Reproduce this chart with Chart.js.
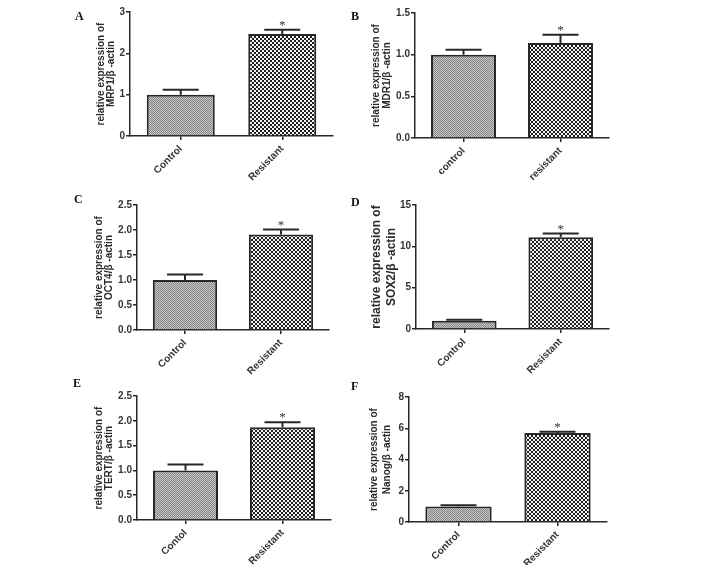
<!DOCTYPE html>
<html>
<head>
<meta charset="utf-8">
<script src="https://cdn.jsdelivr.net/npm/chart.js@4.4.1/dist/chart.umd.min.js"></script>
<style>
  body { margin: 0; background: #fff; }
  #page { position: relative; width: 708px; height: 565px; overflow: hidden; background: #fff; }
  #page canvas { position: absolute; }
  .tag { position: absolute; font: bold 12px "Liberation Serif", "Times New Roman", serif; color: #111; line-height: 12px; }
</style>
</head>
<body>
<div id="page"></div>
<script>
// ---- data ----
const catsA = ['Control', 'Resistant'];
const valsA = [1.0, 2.47];
const errA = [0.12, 0.10];
const ticksA = ['0', '1', '2', '3'];

const catsB = ['control', 'resistant'];
const valsB = [1.0, 1.14];
const errB = [0.06, 0.10];
const ticksB = ['0.0', '0.5', '1.0', '1.5'];

const catsC = ['Control', 'Resistant'];
const valsC = [1.0, 1.91];
const errC = [0.11, 0.10];
const ticksC = ['0.0', '0.5', '1.0', '1.5', '2.0', '2.5'];

const catsD = ['Control', 'Resistant'];
const valsD = [1.0, 11.1];
const errD = [0.12, 0.45];
const ticksD = ['0', '5', '10', '15'];

const catsE = ['Contol', 'Resistant'];
const valsE = [1.0, 1.87];
const errE = [0.12, 0.10];
const ticksE = ['0.0', '0.5', '1.0', '1.5', '2.0', '2.5'];

const catsF = ['Control', 'Resistant'];
const valsF = [1.0, 5.7];
const errF = [0.07, 0.07];
const ticksF = ['0', '2', '4', '6', '8'];

const marks = ['', '*'];
const yTitles = [
  ['relative expression of', 'MRP1/\u03B2 -actin'],
  ['relative expression of', 'MDR1/\u03B2 -actin'],
  ['relative expression of', 'OCT4/\u03B2 -actin'],
  ['relative expression of', 'SOX2/\u03B2 -actin'],
  ['relative expression of', 'TERT/\u03B2 -actin'],
  ['relative expression of', 'Nanog/\u03B2 -actin']
];
const panelTags = ['A', 'B', 'C', 'D', 'E', 'F'];

// ---- layout: plot box on the page, first title line x, title font size / line gap, tag position ----
const layout = [
  { l: 130, t: 12, r: 333, b: 136, tx: 101, fs: 10, lh: 10, tag: [75, 10] },
  { l: 415, t: 13, r: 609, b: 138, tx: 376, fs: 10, lh: 11, tag: [351, 10] },
  { l: 137, t: 205, r: 329, b: 330, tx: 99, fs: 10, lh: 10, tag: [74, 193] },
  { l: 416, t: 205, r: 609, b: 329, tx: 377, fs: 12, lh: 15, tag: [351, 196] },
  { l: 137, t: 396, r: 331, b: 520, tx: 99, fs: 10, lh: 10, tag: [73, 377] },
  { l: 409, t: 397, r: 607, b: 522, tx: 374, fs: 10, lh: 13, tag: [351, 380] }
];

const series = [
  { cats: catsA, vals: valsA, err: errA, ticks: ticksA },
  { cats: catsB, vals: valsB, err: errB, ticks: ticksB },
  { cats: catsC, vals: valsC, err: errC, ticks: ticksC },
  { cats: catsD, vals: valsD, err: errD, ticks: ticksD },
  { cats: catsE, vals: valsE, err: errE, ticks: ticksE },
  { cats: catsF, vals: valsF, err: errF, ticks: ticksF }
];

const ink = '#2b2626';
const font = '"Liberation Sans", Arial, sans-serif';

// fill textures like the printed figure
function makePattern(draw, size) {
  const tile = document.createElement('canvas');
  tile.width = size;
  tile.height = size;
  const c = tile.getContext('2d');
  draw(c);
  return c.createPattern(tile, 'repeat');
}
const greyFill = makePattern(c => {
  c.fillStyle = '#c6c6c6'; c.fillRect(0, 0, 2, 2);
  c.fillStyle = '#868686'; c.fillRect(0, 0, 1, 1); c.fillRect(1, 1, 1, 1);
}, 2);
const checkFill = makePattern(c => {
  c.fillStyle = '#1e1e1e'; c.fillRect(0, 0, 4, 4);
  c.fillStyle = '#f4f4f4'; c.fillRect(0, 0, 2, 2); c.fillRect(2, 2, 2, 2);
}, 4);

// upper error bars + significance marks
const errorBars = {
  id: 'errorBars',
  afterDatasetsDraw(chart) {
    const { ctx } = chart;
    const y = chart.scales.y;
    const ds = chart.data.datasets[0];
    const meta = chart.getDatasetMeta(0);
    ctx.save();
    ctx.strokeStyle = ink;
    ctx.lineWidth = 2;
    meta.data.forEach((bar, i) => {
      const top = y.getPixelForValue(ds.data[i] + ds.errors[i]);
      ctx.beginPath();
      ctx.moveTo(bar.x, bar.y);
      ctx.lineTo(bar.x, top);
      ctx.moveTo(bar.x - 18, top);
      ctx.lineTo(bar.x + 18, top);
      ctx.stroke();
      if (ds.marks[i]) {
        ctx.fillStyle = '#333';
        ctx.font = '13px "Liberation Serif", serif';
        ctx.textAlign = 'center';
        ctx.textBaseline = 'alphabetic';
        ctx.fillText(ds.marks[i], bar.x, top - 1);
      }
    });
    ctx.restore();
  }
};

const page = document.getElementById('page');
const Y_W = 60, PAD_T = 14, PAD_R = 12, X_H = 52;

series.forEach((s, k) => {
  const box = layout[k];
  const left = box.l - Y_W;
  const top = box.t - PAD_T;
  const w = box.r + PAD_R - left;
  const h = box.b + X_H - top;

  const cv = document.createElement('canvas');
  cv.style.left = left + 'px';
  cv.style.top = top + 'px';
  cv.style.width = w + 'px';
  cv.style.height = h + 'px';
  cv.width = w;
  cv.height = h;
  page.appendChild(cv);

  const tag = document.createElement('div');
  tag.className = 'tag';
  tag.textContent = panelTags[k];
  tag.style.left = box.tag[0] + 'px';
  tag.style.top = box.tag[1] + 'px';
  page.appendChild(tag);

  const tickVals = s.ticks.map(Number);

  new Chart(cv, {
    type: 'bar',
    data: {
      labels: s.cats,
      datasets: [{
        data: s.vals,
        errors: s.err,
        marks: marks,
        backgroundColor: [greyFill, checkFill],
        borderColor: ink,
        borderWidth: 2,
        barPercentage: 0.67,
        categoryPercentage: 1
      }]
    },
    options: {
      responsive: false,
      animation: false,
      layout: { padding: { top: PAD_T, right: PAD_R, left: 0, bottom: 0 } },
      plugins: { legend: { display: false }, tooltip: { enabled: false } },
      scales: {
        x: {
          offset: true,
          afterFit: sc => { sc.height = X_H; },
          grid: { display: true, offset: false, drawOnChartArea: false, tickLength: 4, color: ink, lineWidth: 1.5 },
          border: { display: true, color: ink, width: 1.5 },
          ticks: {
            minRotation: 45, maxRotation: 45, padding: 3,
            color: '#333',
            font: { family: font, size: 10, weight: 'bold' }
          }
        },
        y: {
          min: 0,
          max: tickVals[tickVals.length - 1],
          afterFit: sc => { sc.width = Y_W; },
          afterBuildTicks: sc => { sc.ticks = tickVals.map(v => ({ value: v })); },
          grid: { display: true, drawOnChartArea: false, tickLength: 4, color: ink, lineWidth: 1.5 },
          border: { display: true, color: ink, width: 1.5 },
          ticks: {
            padding: 1,
            color: '#333',
            font: { family: font, size: 10, weight: 'bold' },
            callback: (v, i) => s.ticks[i]
          },
          title: {
            display: true,
            text: yTitles[k],
            color: '#2b2b2b',
            padding: { top: box.tx - left - box.lh / 2, bottom: 0 },
            font: { family: font, size: box.fs, weight: 'bold', lineHeight: box.lh / box.fs }
          }
        }
      }
    },
    plugins: [errorBars]
  });
});
</script>
</body>
</html>
